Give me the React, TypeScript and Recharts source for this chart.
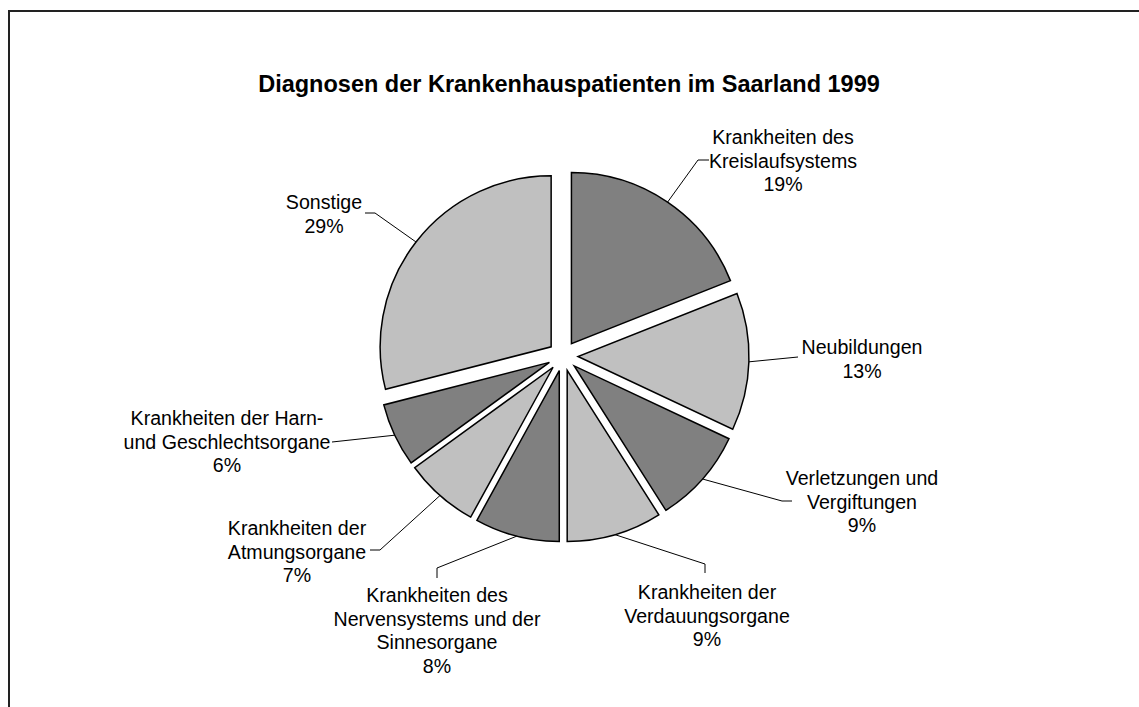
import React from 'react';
import { PieChart, Pie, Cell, Sector } from 'recharts';

const categories = [
  'Krankheiten des\nKreislaufsystems',
  'Neubildungen',
  'Verletzungen und\nVergiftungen',
  'Krankheiten der\nVerdauungsorgane',
  'Krankheiten des\nNervensystems und der\nSinnesorgane',
  'Krankheiten der\nAtmungsorgane',
  'Krankheiten der Harn-\nund Geschlechtsorgane',
  'Sonstige',
];
const shares = [19, 13, 9, 9, 8, 7, 6, 29];
const title = 'Diagnosen der Krankenhauspatienten im Saarland 1999';

const data = categories.map((name, i) => ({ name, value: shares[i] }));

const W = 1139;
const H = 707;
const CX = 558;
const CY = 351;
const R = 171;
const EXPLODE = 15;
const RAD = Math.PI / 180;
const FONT = '"Liberation Sans", Arial, sans-serif';
const DARK = '#808080';
const LIGHT = '#C0C0C0';
const LINE_H = 23.5;

// label centre (first line) and leader bend points, relative to pie centre
const labelLayout = [
  { tx: 220, ty: -219, pts: [[135, -196], [146, -196]] },
  { tx: 299, ty: -9, pts: [[235, 1]] },
  { tx: 299, ty: 122, pts: [[219, 145], [229, 145]] },
  { tx: 144, ty: 236, pts: [[142, 208], [142, 217]] },
  { tx: -126, ty: 239, pts: [[-126, 212], [-126, 222]] },
  { tx: -266, ty: 172, pts: [[-183, 194], [-193, 194]] },
  { tx: -336, ty: 62, pts: [[-231, 86]] },
  { tx: -239, ty: -154, pts: [[-188, -143], [-198, -143]] },
];

const offset = (mid: number, d: number) => [d * Math.cos(-mid * RAD), d * Math.sin(-mid * RAD)];

const ExplodedSector = (props: any) => {
  const { cx, cy, outerRadius, startAngle, endAngle, fill } = props;
  const mid = (startAngle + endAngle) / 2;
  const [dx, dy] = offset(mid, EXPLODE);
  return (
    <Sector
      cx={cx + dx}
      cy={cy + dy}
      innerRadius={0}
      outerRadius={outerRadius}
      startAngle={startAngle}
      endAngle={endAngle}
      fill={fill}
      stroke="#000"
      strokeWidth={1.5}
    />
  );
};

const renderLabel = (props: any) => {
  const { cx, cy, outerRadius, startAngle, endAngle, index, percent } = props;
  const mid = (startAngle + endAngle) / 2;
  const [ox, oy] = offset(mid, EXPLODE);
  const [ax, ay] = offset(mid, outerRadius);
  const lay = labelLayout[index];
  const pts = [[cx + ox + ax, cy + oy + ay], ...lay.pts.map(([px, py]) => [cx + px, cy + py])];
  const lines = [...categories[index].split('\n'), `${Math.round(percent * 100)}%`];
  return (
    <g key={`lbl-${index}`}>
      <polyline
        points={pts.map((p) => p.join(',')).join(' ')}
        fill="none"
        stroke="#000"
        strokeWidth={1}
      />
      <text
        x={cx + lay.tx}
        y={cy + lay.ty}
        textAnchor="middle"
        dominantBaseline="central"
        fontFamily={FONT}
        fontSize={19.6}
        fill="#000"
      >
        {lines.map((l, i) => (
          <tspan key={i} x={cx + lay.tx} dy={i === 0 ? 0 : LINE_H}>
            {l}
          </tspan>
        ))}
      </text>
    </g>
  );
};

const App = () => {
  return (
    <div style={{ position: 'relative', width: W, height: H, overflow: 'hidden', background: '#fff' }}>
      <style>{'body{margin:0}'}</style>
      <div
        style={{
          position: 'absolute',
          left: 8,
          top: 10,
          width: 1200,
          height: 800,
          border: '2px solid #222',
        }}
      />
      <div style={{ position: 'absolute', left: 0, top: 0 }}>
        <PieChart width={W} height={H}>
          <text
            x={569}
            y={84}
            textAnchor="middle"
            dominantBaseline="central"
            fontFamily={FONT}
            fontWeight="bold"
            fontSize={23.5}
            fill="#000"
          >
            {title}
          </text>
          <Pie
            data={data}
            dataKey="value"
            nameKey="name"
            cx={CX}
            cy={CY}
            outerRadius={R}
            startAngle={90}
            endAngle={-270}
            isAnimationActive={false}
            shape={ExplodedSector}
            activeShape={ExplodedSector}
            inactiveShape={ExplodedSector}
            label={renderLabel}
            labelLine={false}
          >
            {data.map((d, i) => (
              <Cell key={d.name} fill={i % 2 === 0 ? DARK : LIGHT} />
            ))}
          </Pie>
        </PieChart>
      </div>
    </div>
  );
};

export default App;
